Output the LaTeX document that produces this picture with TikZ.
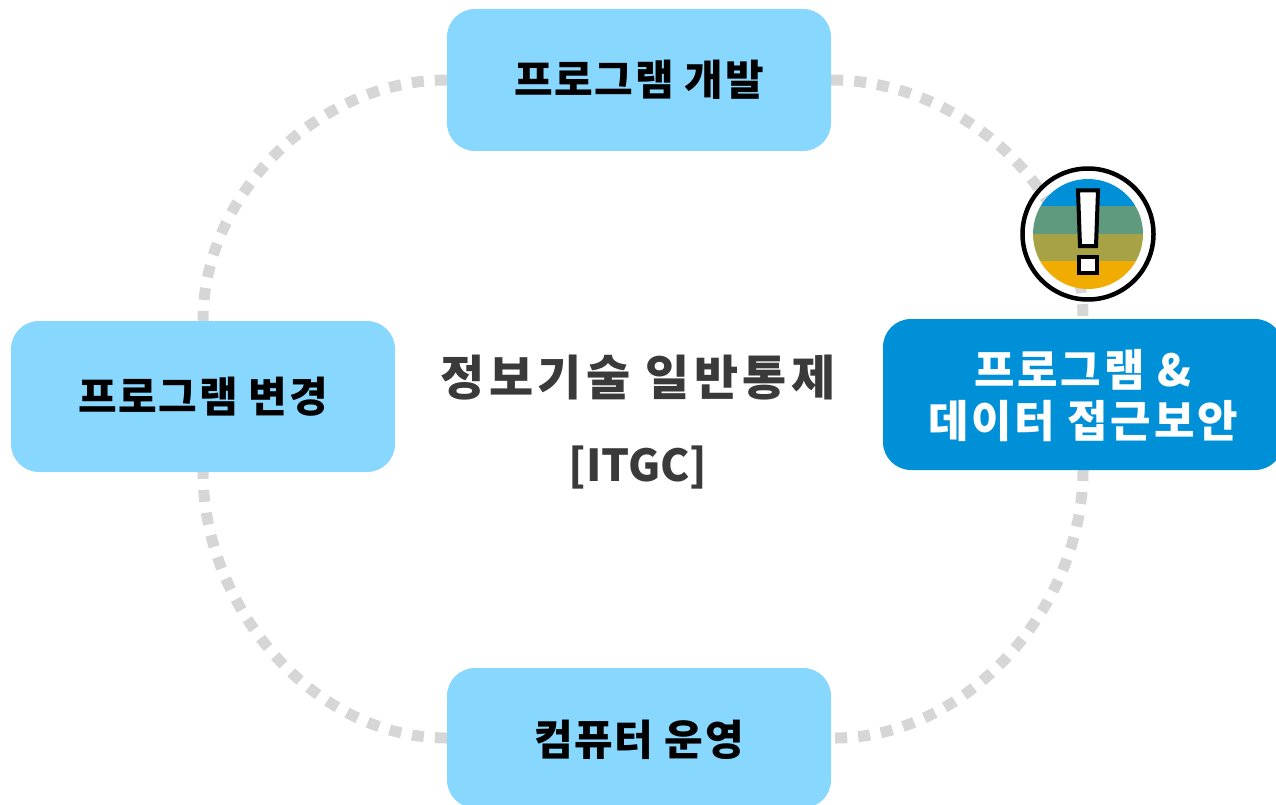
\documentclass[tikz,border=0pt]{standalone}
\usepackage{fontspec}
\setmainfont{Noto Sans CJK KR}
\usetikzlibrary{backgrounds}
\definecolor{lightbox}{HTML}{87D7FF}
\definecolor{darkbox}{HTML}{0090D7}
\definecolor{dashgrey}{HTML}{D6D6D6}
\definecolor{centertext}{HTML}{3A3A3A}
\definecolor{bandblue}{HTML}{0090D7}
\definecolor{bandgreen}{HTML}{5F9A7F}
\definecolor{bandolive}{HTML}{A6A245}
\definecolor{bandyellow}{HTML}{F0AC00}
\tikzset{
  x=1pt,y=-1pt,
  stagebox/.style={rounded corners=28pt,minimum width=384pt,inner sep=0pt,align=center},
  stagefont/.style={font=\fontsize{42}{50}\selectfont\bfseries\addfontfeature{LetterSpace=4}},
  lightstage/.style={stagebox,stagefont,fill=lightbox,text=black},
  darkstage/.style={stagebox,fill=darkbox,text=white},
  ringlink/.style={draw=dashgrey,line width=11pt,dash pattern=on 12pt off 11pt,looseness=0.95},
  centerlabel/.style={text=centertext,inner sep=0pt},
  warnmark/.style={draw=black,fill=white,line width=4pt,miter limit=4},
}
\begin{document}
\begin{tikzpicture}
\useasboundingbox (0,0) rectangle (1276,805);
\begin{scope}
\clip (0,0) rectangle (1276,805);
\node[lightstage,minimum height=142pt] (top) at (639,80) {프로그램 개발};
\node[lightstage,minimum height=151pt] (left) at (203,396.5) {프로그램 변경};
\node[darkstage,minimum width=400pt,minimum height=151pt] (right) at (1083,394.5) {};
\node[lightstage,minimum height=140pt] (bottom) at (639,738) {};
\end{scope}
\node[text=white,font=\fontsize{44}{51}\selectfont\bfseries\addfontfeature{LetterSpace=6},align=center,inner sep=0pt] (rightlabel) at (1083,396) {프로그램 \&\\데이터 접근보안};
\node[text=black,stagefont,inner sep=0pt] (bottomlabel) at (639,740) {컴퓨터 운영};
\node[centerlabel,font=\fontsize{48}{50}\selectfont\bfseries\addfontfeature{LetterSpace=9}] (title) at (638,378) {정보기술 일반통제};
\node[centerlabel,font=\fontsize{44}{50}\selectfont\bfseries] (code) at (638,468) {[ITGC]};
\begin{scope}[on background layer]
\draw[ringlink] (top.west) to[out=180,in=90] (left.north);
\draw[ringlink] (bottom.west) to[out=180,in=-90] (left.south);
\draw[ringlink] (top.east) to[out=0,in=90] (right.north);
\draw[ringlink,shorten <=4pt] (bottom.east) to[out=0,in=-90] (right.south);
\end{scope}
% warning icon
\begin{scope}
\clip (1088,234) circle (55);
\fill[bandblue] (1030,175) rectangle (1146,206);
\fill[bandgreen] (1030,206) rectangle (1146,233.5);
\fill[bandolive] (1030,233.5) rectangle (1146,261);
\fill[bandyellow] (1030,261) rectangle (1146,292);
\end{scope}
\node[circle,draw=black,line width=4.5pt,minimum size=131pt,inner sep=0pt] (warnring) at (1088,234) {};
\draw[warnmark] (1078,190.5) -- (1098,190.5) -- (1096,246) -- (1080,246) -- cycle;
\draw[warnmark] (1079,256.5) rectangle (1097,273);
\end{tikzpicture}
\end{document}
